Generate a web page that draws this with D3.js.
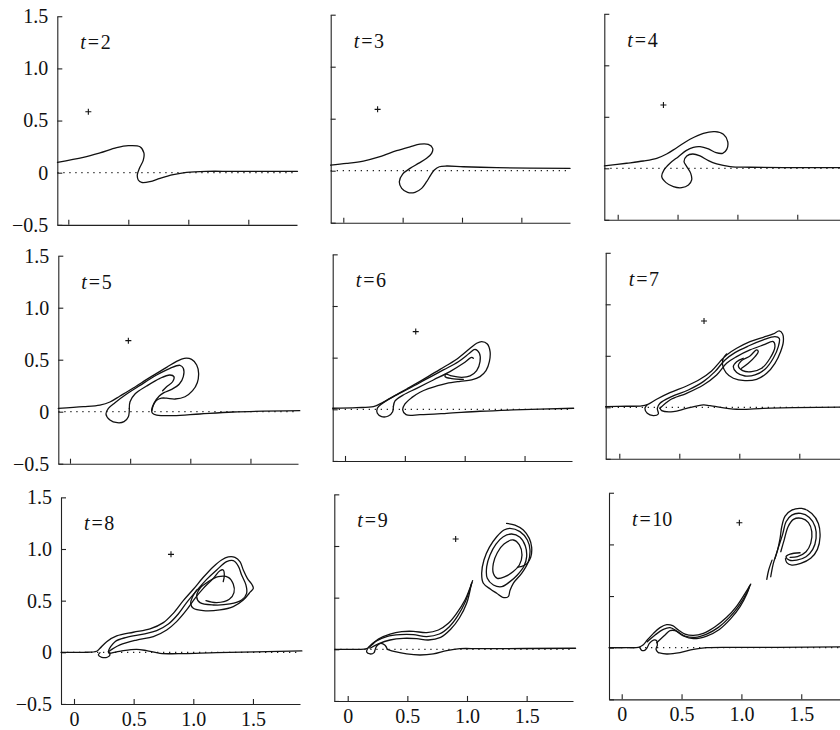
<!DOCTYPE html>
<html><head><meta charset="utf-8">
<script src="https://cdn.jsdelivr.net/npm/d3@7"></script>
<style>body{margin:0;background:#fff} svg{display:block}</style>
</head><body>
<svg id="c" width="840" height="730"></svg>
<script>
// ---------- data (x, y in plot units) ----------
const times = [2, 3, 4, 5, 6, 7, 8, 9, 10];
const xTicks = [0, 0.5, 1.0, 1.5];
const yTicks = [-0.5, 0, 0.5, 1.0, 1.5];
const markers = [[0.167,0.585],[0.289,0.59],[0.382,0.615],[0.485,0.683],[0.591,0.752],[0.706,0.838],[0.813,0.948],[0.905,1.068],[0.983,1.21]];

const curvesT2 = [
 [[-0.09,0.10],[0.125,0.147],[0.264,0.19],[0.403,0.24],[0.5,0.259],[0.597,0.249],[0.63,0.19],[0.625,0.12],[0.592,0.04],[0.575,-0.022],[0.583,-0.07],[0.611,-0.093],[0.68,-0.086],[0.764,-0.054],[0.875,-0.019],[0.986,0.003],[1.15,0.013],[1.375,0.013],[1.91,0.013]]
];
const curvesT3 = [
 [[-0.107,0.054],[0.028,0.07],[0.169,0.093],[0.309,0.135],[0.449,0.192],[0.562,0.23],[0.646,0.256],[0.716,0.253],[0.753,0.215],[0.744,0.167],[0.702,0.119],[0.632,0.07],[0.562,0.022],[0.5,-0.032],[0.472,-0.106],[0.492,-0.17],[0.542,-0.208],[0.604,-0.208],[0.66,-0.17],[0.702,-0.106],[0.736,-0.042],[0.767,0.006],[0.809,0.038],[0.871,0.045],[1.011,0.038],[1.292,0.029],[1.91,0.022]]
];
const curvesT4 = [
 [[-0.111,0.023],[0.075,0.049],[0.214,0.071],[0.326,0.097],[0.409,0.139],[0.493,0.2],[0.604,0.282],[0.716,0.34],[0.813,0.356],[0.883,0.33],[0.919,0.259],[0.911,0.184],[0.877,0.146],[0.822,0.152],[0.758,0.188],[0.688,0.21],[0.632,0.204],[0.571,0.172],[0.507,0.113],[0.437,0.049],[0.387,-0.016],[0.368,-0.081],[0.404,-0.139],[0.465,-0.178],[0.535,-0.188],[0.591,-0.162],[0.618,-0.113],[0.61,-0.049],[0.577,0.016],[0.554,0.065],[0.577,0.12],[0.627,0.139],[0.688,0.12],[0.758,0.074],[0.827,0.042],[0.939,0.016],[1.106,0.01],[1.468,0.006],[1.91,0.006]]
];
const curvesT5 = [
 [[-0.097,0.032],[0.111,0.048],[0.249,0.064],[0.332,0.093],[0.416,0.151],[0.526,0.228],[0.665,0.33],[0.803,0.426],[0.886,0.484],[0.95,0.513],[1.011,0.503],[1.053,0.449],[1.069,0.369],[1.058,0.279],[1.019,0.202],[0.956,0.144],[0.873,0.122],[0.803,0.13],[0.76,0.13],[0.72,0.11],[0.695,0.07],[0.679,0.02],[0.685,-0.014],[0.72,-0.032],[0.859,-0.038],[1.08,-0.022],[1.357,-0.003],[1.91,0.01]],
 [[0.493,0.032],[0.485,-0.048],[0.449,-0.096],[0.393,-0.106],[0.332,-0.08],[0.299,-0.022],[0.319,0.032],[0.374,0.087],[0.471,0.17],[0.582,0.253],[0.72,0.353],[0.831,0.417],[0.914,0.446],[0.942,0.417],[0.942,0.337],[0.909,0.266],[0.845,0.215],[0.781,0.183],[0.742,0.151],[0.698,0.08],[0.681,0.01]],
 [[0.493,0.032],[0.499,0.096],[0.54,0.17],[0.637,0.247],[0.748,0.321],[0.831,0.353],[0.864,0.337],[0.853,0.288],[0.803,0.24],[0.77,0.202]]
];
const curvesT6 = [
 [[-0.103,0.01],[0.097,0.016],[0.237,0.026],[0.292,0.052],[0.376,0.106],[0.515,0.197],[0.655,0.29],[0.794,0.387],[0.933,0.484],[1.045,0.59],[1.1,0.639],[1.142,0.655],[1.189,0.632],[1.212,0.558],[1.206,0.461],[1.178,0.374],[1.128,0.316],[1.058,0.284],[0.961,0.271],[0.85,0.252],[0.766,0.226],[0.696,0.2],[0.627,0.165],[0.557,0.113],[0.501,0.052],[0.482,-0.006],[0.51,-0.052],[0.627,-0.052],[0.85,-0.039],[1.128,-0.019],[1.407,-0.006],[1.91,0.01]],
 [[0.404,0.026],[0.398,-0.023],[0.362,-0.065],[0.306,-0.071],[0.27,-0.039],[0.27,0.01],[0.306,0.052],[0.404,0.123],[0.543,0.206],[0.682,0.294],[0.822,0.381],[0.947,0.461],[1.039,0.542],[1.086,0.581],[1.123,0.542],[1.128,0.461],[1.1,0.374],[1.045,0.323],[0.975,0.31],[0.891,0.323],[0.844,0.339],[0.836,0.316],[0.891,0.297],[0.989,0.29]],
 [[0.404,0.026],[0.418,0.081],[0.487,0.139],[0.599,0.203],[0.738,0.284],[0.877,0.365],[0.989,0.445],[1.058,0.503],[1.072,0.494]]
];
const curvesT7 = [
 [[-0.114,0.006],[0.061,0.01],[0.186,0.013],[0.233,0.026],[0.311,0.078],[0.422,0.142],[0.561,0.207],[0.672,0.272],[0.769,0.353],[0.839,0.443],[0.894,0.508],[0.978,0.573],[1.089,0.638],[1.2,0.68],[1.283,0.712],[1.333,0.741],[1.361,0.712],[1.367,0.638],[1.344,0.54],[1.297,0.427],[1.228,0.33],[1.144,0.272],[1.047,0.259],[0.95,0.282],[0.889,0.337],[0.861,0.411],[0.867,0.476],[0.894,0.518]],
 [[0.233,0.026],[0.214,-0.01],[0.233,-0.058],[0.283,-0.081],[0.325,-0.065],[0.317,-0.01],[0.339,0.039],[0.436,0.104],[0.575,0.168],[0.7,0.249],[0.797,0.346],[0.881,0.46],[0.964,0.531],[1.075,0.595],[1.2,0.654],[1.297,0.686],[1.333,0.67],[1.325,0.589],[1.283,0.476],[1.214,0.369],[1.131,0.314],[1.047,0.304],[0.978,0.337],[0.95,0.395],[0.978,0.443],[1.033,0.476]],
 [[0.339,-0.01],[0.422,0.071],[0.561,0.136],[0.7,0.217],[0.811,0.314],[0.894,0.427],[0.978,0.492],[1.089,0.557],[1.2,0.605],[1.283,0.638],[1.297,0.589],[1.256,0.476],[1.186,0.379],[1.103,0.346],[1.028,0.356],[0.992,0.401],[1.019,0.453],[1.089,0.498],[1.144,0.557],[1.158,0.54],[1.131,0.492],[1.075,0.427],[1.019,0.379]],
 [[0.339,-0.01],[0.353,-0.032],[0.45,-0.042],[0.561,-0.01],[0.7,0.023],[0.756,0.016],[0.978,-0.019],[1.2,-0.01],[1.45,-0.003],[1.91,0.003]]
];
const curvesT8 = [
 [[-0.109,0],[0.078,0],[0.19,0.01],[0.218,0.039],[0.274,0.103],[0.358,0.158],[0.497,0.194],[0.637,0.226],[0.749,0.287],[0.832,0.377],[0.916,0.5],[1.0,0.61],[1.084,0.726],[1.168,0.829],[1.237,0.894],[1.293,0.923],[1.349,0.919],[1.391,0.877],[1.419,0.797],[1.453,0.716],[1.494,0.652],[1.503,0.619],[1.48,0.587],[1.419,0.506],[1.335,0.442],[1.223,0.41],[1.084,0.403],[1.0,0.426],[0.978,0.474],[0.994,0.539],[1.028,0.603]],
 [[0.218,-0.003],[0.204,-0.026],[0.232,-0.048],[0.279,-0.048],[0.302,-0.026],[0.288,0.006],[0.344,0.103],[0.441,0.145],[0.581,0.177],[0.693,0.21],[0.791,0.274],[0.874,0.371],[0.944,0.481],[1.028,0.597],[1.112,0.706],[1.196,0.797],[1.279,0.877],[1.335,0.887],[1.377,0.835],[1.405,0.748],[1.441,0.652],[1.447,0.571],[1.405,0.506],[1.307,0.468],[1.168,0.458],[1.056,0.481],[1.028,0.539],[1.056,0.619],[1.126,0.684],[1.209,0.732],[1.293,0.726],[1.335,0.661],[1.341,0.577],[1.302,0.513],[1.196,0.481],[1.106,0.5]],
 [[0.288,0.006],[0.385,0.071],[0.525,0.119],[0.665,0.152],[0.777,0.216],[0.86,0.297],[0.944,0.41],[1.014,0.523],[1.084,0.619],[1.168,0.716],[1.223,0.79],[1.251,0.797],[1.26,0.748],[1.251,0.684]],
 [[0.302,-0.01],[0.413,0.016],[0.525,0.029],[0.609,0.016],[0.721,-0.01],[0.916,-0.013],[1.196,-0.003],[1.91,0.013]]
];
const curvesT9 = [
 [[-0.106,0],[0.075,0],[0.159,0.006],[0.201,0.042],[0.257,0.1],[0.355,0.148],[0.453,0.171],[0.55,0.174],[0.662,0.161],[0.76,0.187],[0.844,0.252],[0.913,0.348],[0.983,0.477],[1.047,0.665]],
 [[0.173,0.019],[0.229,0.074],[0.327,0.123],[0.439,0.142],[0.55,0.142],[0.662,0.123],[0.768,0.148],[0.852,0.219],[0.922,0.323],[0.986,0.461],[1.042,0.645]],
 [[0.187,0.01],[0.257,0.052],[0.355,0.09],[0.466,0.106],[0.578,0.103],[0.676,0.09],[0.779,0.116],[0.863,0.194],[0.936,0.303],[0.997,0.445],[1.036,0.632]],
 [[0.165,0.003],[0.159,-0.026],[0.187,-0.045],[0.221,-0.032],[0.229,-0.006],[0.243,0.032],[0.277,0.058],[0.313,0.039],[0.332,0]],
 [[0.332,0],[0.397,-0.023],[0.494,-0.045],[0.606,-0.055],[0.718,-0.045],[0.83,-0.013],[0.941,0.006],[1.109,0.006],[1.91,0.01]],
 [[1.332,1.219],[1.402,1.203],[1.472,1.155],[1.522,1.074],[1.542,0.987],[1.534,0.89],[1.5,0.826],[1.45,0.8],[1.422,0.794]]
];
const ringsT9 = [
 [[1.36,1.171],[1.444,1.139],[1.506,1.058],[1.528,0.961],[1.514,0.848],[1.458,0.735],[1.388,0.639],[1.36,0.568],[1.346,0.51],[1.299,0.503],[1.249,0.542],[1.198,0.581],[1.137,0.639],[1.123,0.735],[1.142,0.865],[1.187,0.987],[1.249,1.09],[1.31,1.155]],
 [[1.374,1.116],[1.444,1.084],[1.489,1.0],[1.5,0.897],[1.478,0.806],[1.422,0.719],[1.36,0.655],[1.291,0.606],[1.221,0.623],[1.17,0.687],[1.165,0.8],[1.193,0.913],[1.243,1.019],[1.304,1.09]],
 [[1.388,1.058],[1.439,1.01],[1.461,0.913],[1.439,0.816],[1.388,0.752],[1.318,0.703],[1.254,0.687],[1.221,0.735],[1.221,0.832],[1.254,0.935],[1.31,1.019]]
];
const curvesT10 = [
 [[-0.106,0],[0.042,0],[0.139,0.003],[0.175,0.023],[0.214,0.074],[0.265,0.139],[0.32,0.194],[0.376,0.223],[0.426,0.213],[0.474,0.171],[0.529,0.132],[0.599,0.119],[0.682,0.139],[0.78,0.203],[0.877,0.294],[0.961,0.403],[1.031,0.526],[1.078,0.616]],
 [[0.214,0.058],[0.279,0.123],[0.348,0.177],[0.404,0.194],[0.46,0.161],[0.529,0.113],[0.613,0.1],[0.71,0.132],[0.808,0.197],[0.9,0.294],[0.983,0.413],[1.045,0.532],[1.072,0.603]],
 [[0.292,0.048],[0.362,0.123],[0.404,0.165],[0.446,0.165],[0.515,0.113],[0.599,0.087],[0.71,0.113],[0.816,0.177],[0.911,0.281],[0.989,0.397],[1.045,0.519],[1.067,0.59]],
 [[0.153,0],[0.167,-0.026],[0.195,-0.023],[0.214,0.003],[0.231,0.042],[0.265,0.074],[0.292,0.068],[0.298,0.026],[0.287,-0.016],[0.306,-0.048]],
 [[0.306,-0.048],[0.376,-0.061],[0.487,-0.048],[0.599,-0.016],[0.71,0],[0.933,0.003],[1.295,0.003],[1.91,0.01]],
 [[1.245,0.687],[1.267,0.816],[1.301,0.939],[1.323,1.058],[1.337,1.171],[1.365,1.274],[1.421,1.332],[1.504,1.348],[1.588,1.3],[1.643,1.203],[1.657,1.074],[1.635,0.952],[1.579,0.865],[1.496,0.816],[1.421,0.8],[1.379,0.823],[1.368,0.861]],
 [[1.281,0.865],[1.309,0.971],[1.345,1.1],[1.373,1.219],[1.421,1.284],[1.496,1.3],[1.568,1.261],[1.616,1.171],[1.624,1.058],[1.596,0.952],[1.54,0.881],[1.462,0.848],[1.401,0.848],[1.373,0.881],[1.407,0.906],[1.49,0.919]],
 [[1.329,0.929],[1.357,1.042],[1.39,1.171],[1.435,1.242],[1.504,1.252],[1.56,1.21],[1.588,1.123],[1.579,1.01],[1.54,0.929],[1.468,0.881],[1.407,0.874]],
 [[1.212,0.661],[1.228,0.752],[1.256,0.848]]
];
const ringsT10 = [];

const panelCurves = [curvesT2, curvesT3, curvesT4, curvesT5, curvesT6, curvesT7, curvesT8, curvesT9, curvesT10];
const panelRings  = [[], [], [], [], [], [], [], ringsT9, ringsT10];

// ---------- layout (pixels) ----------
const layout = [
 {L:57.3, R:297, X0:68.3,  kx:120,   Y0:172.7, ky:104.3},
 {L:330.7,R:570, X0:343.3, kx:118.7, Y0:170.7, ky:104},
 {L:604.3,R:842, X0:617.7, kx:119.7, Y0:168.3, ky:103},
 {L:58.3, R:298, X0:70,    kx:120.3, Y0:411.7, ky:104},
 {L:332.7,R:572, X0:345,   kx:119.7, Y0:409.3, ky:103.3},
 {L:605.7,R:842, X0:619.3, kx:120,   Y0:407.3, ky:103},
 {L:61,   R:300, X0:74,    kx:119.3, Y0:652.3, ky:103.3},
 {L:334.3,R:573, X0:347.7, kx:119.3, Y0:649.3, ky:103.3},
 {L:609,  R:842, X0:621.7, kx:119.7, Y0:647.7, ky:103.3}
];

const svg = d3.select("#c");
const FONT = "'Liberation Serif','Times New Roman',serif";
const fmt = d => d === 0 ? "0" : (d < 0 ? "\u2212" : "") + Math.abs(d).toFixed(1);

times.forEach((t, i) => {
  const p = layout[i];
  const col = i % 3, row = Math.floor(i / 3);
  const x = d3.scaleLinear().domain([(p.L - p.X0) / p.kx, (p.R - p.X0) / p.kx]).range([p.L, p.R]);
  const y = d3.scaleLinear().domain([-0.5, 1.5]).range([p.Y0 + 0.5 * p.ky, p.Y0 - 1.5 * p.ky]);
  const g = svg.append("g");

  // axes
  const ax = d3.axisLeft(y).tickValues(yTicks).tickSize(-5).tickSizeOuter(0).tickPadding(9)
    .tickFormat(col === 0 ? fmt : () => "");
  const gy = g.append("g").attr("transform", `translate(${p.L},0)`).call(ax);
  const bx = d3.axisBottom(x).tickValues(xTicks).tickSize(-5).tickSizeOuter(0).tickPadding(7.5)
    .tickFormat(row === 2 ? fmt : () => "");
  const gx = g.append("g").attr("transform", `translate(0,${y(-0.5)})`).call(bx);
  [gx, gy].forEach(a => {
    a.selectAll("path,line").attr("stroke", "#222").attr("stroke-width", 1.1);
    a.selectAll("text").attr("font-family", FONT).attr("font-size", 20).attr("fill", "#111");
  });

  // dotted zero line
  g.append("line").attr("x1", x.range()[0]).attr("x2", x.range()[1])
    .attr("y1", y(0)).attr("y2", y(0))
    .attr("stroke", "#222").attr("stroke-width", 1.2).attr("stroke-dasharray", "1.3,4.7");

  // curves
  const line = d3.line().x(d => x(d[0])).y(d => y(d[1])).curve(d3.curveCatmullRom.alpha(0.5));
  const ring = d3.line().x(d => x(d[0])).y(d => y(d[1])).curve(d3.curveCatmullRomClosed.alpha(0.5));
  g.selectAll("path.c").data(panelCurves[i]).enter().append("path").attr("class", "c")
    .attr("d", line).attr("fill", "none").attr("stroke", "#111").attr("stroke-width", 1.3)
    .attr("stroke-linejoin", "round").attr("stroke-linecap", "round");
  g.selectAll("path.r").data(panelRings[i]).enter().append("path").attr("class", "r")
    .attr("d", ring).attr("fill", "none").attr("stroke", "#111").attr("stroke-width", 1.3);

  // marker "+"
  const m = markers[i], mx = x(m[0]), my = y(m[1]), s = 3;
  g.append("path").attr("d", `M${mx - s},${my}H${mx + s}M${mx},${my - s}V${my + s}`)
    .attr("stroke", "#111").attr("stroke-width", 1.1);

  // label
  const lab = g.append("text").attr("x", p.L + 23).attr("y", y(1.5) + 33)
    .attr("font-family", FONT).attr("font-size", 20).attr("fill", "#111");
  lab.append("tspan").attr("font-style", "italic").text("t");
  lab.append("tspan").attr("dx", 2).text("=");
  lab.append("tspan").attr("dx", 1.5).text(t);
});
</script>
</body></html>
